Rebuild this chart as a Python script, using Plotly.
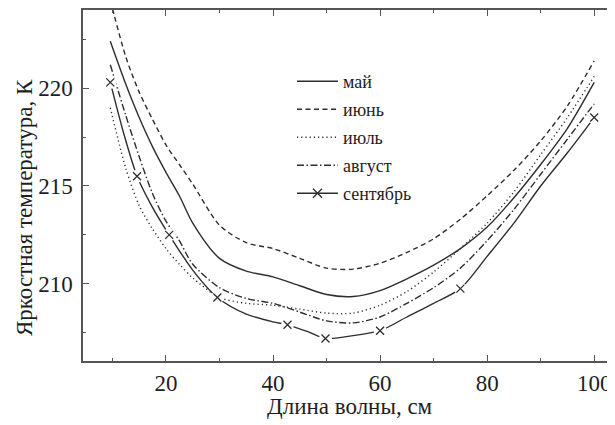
import plotly.graph_objects as go

# Wavelength grid, cm
WL = [9.6, 12.5, 15, 17.5, 20, 22.5, 25, 30, 35, 40, 45, 50, 55, 60, 65, 70, 75, 80, 85, 90, 95, 100]

# Brightness temperature, K
T_MAY = [222.4, 220.2, 218.5, 217.0, 215.7, 214.5, 213.1, 211.3, 210.65, 210.35, 209.9, 209.45,
         209.35, 209.65, 210.25, 210.95, 211.8, 212.9, 214.4, 216.1, 217.95, 220.3]
T_JUN = [224.5, 221.6, 219.8, 218.4, 217.1, 216.1, 215.1, 213.0, 212.1, 211.8, 211.3, 210.8,
         210.75, 211.05, 211.6, 212.3, 213.3, 214.5, 215.8, 217.3, 219.1, 221.4]
T_JUL = [219.0, 215.9, 214.0, 212.8, 211.8, 211.0, 210.3, 209.3, 209.0, 208.9, 208.7, 208.5,
         208.5, 208.9, 209.6, 210.6, 211.8, 213.1, 214.7, 216.6, 218.5, 220.6]
T_AUG = [221.2, 218.6, 216.5, 214.6, 213.2, 212.2, 211.0, 209.8, 209.25, 209.0, 208.55, 208.1,
         208.0, 208.3, 209.0, 209.8, 210.8, 212.2, 213.8, 215.6, 217.4, 219.2]

SEPT_WL = [9.6, 12.2, 14.6, 17.3, 20.6, 25, 29.6, 35, 40, 42.7, 46.5, 49.8, 55, 60, 65, 70, 75, 80, 85, 90, 95, 100]
T_SEP = [220.3, 217.6, 215.5, 214.0, 212.5, 210.7, 209.3, 208.45, 208.05, 207.9, 207.55, 207.2,
         207.35, 207.6, 208.3, 209.0, 209.75, 211.4, 213.1, 215.0, 216.7, 218.5]
SEPT_MARK_WL = [9.6, 14.6, 20.6, 29.6, 42.7, 49.8, 60, 75, 100]

NAMES = ["май", "июнь", "июль", "август", "сентябрь"]

X_TICKS = [20, 40, 60, 80, 100]
Y_TICKS = [210, 215, 220]

INK = "#2e2e2e"
AXC = "#555555"
TXT = "#1e1e1e"
FONT = "Liberation Serif, Times New Roman, Tinos, DejaVu Serif, serif"

fig = go.Figure()

styles = [
    (T_MAY, "solid"),
    (T_JUN, "5px,3.5px"),
    (T_JUL, "1.2px,3px"),
    (T_AUG, "7px,2.5px,1.5px,2.5px"),
]
for (vals, dash), name in zip(styles, NAMES[:4]):
    fig.add_trace(go.Scatter(
        x=WL, y=vals, mode="lines", name=name, legendgroup=name,
        line=dict(color=INK, width=1.4, dash=dash, shape="spline", smoothing=0.8),
    ))

mark_x = [w for w in SEPT_WL if w in SEPT_MARK_WL]
mark_y = [t for w, t in zip(SEPT_WL, T_SEP) if w in SEPT_MARK_WL]

fig.add_trace(go.Scatter(
    x=SEPT_WL, y=T_SEP, mode="lines", showlegend=False, legendgroup=NAMES[4],
    line=dict(color=INK, width=1.4, shape="spline", smoothing=0.8),
))
fig.add_trace(go.Scatter(
    x=mark_x, y=mark_y, mode="markers", showlegend=False, hoverinfo="skip",
    marker=dict(symbol="circle", size=13, color="white", line=dict(width=0)),
))
fig.add_trace(go.Scatter(
    x=mark_x, y=mark_y, mode="markers", showlegend=False, legendgroup=NAMES[4],
    marker=dict(symbol="x-thin", size=8, color=INK, line=dict(color=INK, width=1.3)),
))
# legend entry for September (line with cross)
fig.add_trace(go.Scatter(
    x=[None], y=[None], mode="lines+markers", name=NAMES[4], legendgroup=NAMES[4],
    line=dict(color=INK, width=1.4),
    marker=dict(symbol="x-thin", size=9, color=INK, line=dict(color=INK, width=1.3)),
))

# page body adds an 8px offset; figure is sized so it fills the visible window
OFF = 8
W, H = 615 - OFF, 425 - OFF
LEFT_PX, RIGHT_PX, TOP_PX, BOTTOM_PX = 83, 614, 10, 361   # window coordinates of plot frame
L = LEFT_PX - OFF
T = TOP_PX - OFF
R = W - (RIGHT_PX - OFF)
B = H - (BOTTOM_PX - OFF)
pw, ph = W - L - R, H - T - B


def px_to_paper_x(px):
    return (px - OFF - L) / pw


def px_to_paper_y(py):
    return (H - B - (py - OFF)) / ph


fig.update_layout(
    width=W, height=H,
    margin=dict(l=L, r=R, t=T, b=B, autoexpand=False),
    paper_bgcolor="white", plot_bgcolor="white",
    font=dict(family=FONT, color=TXT, size=23),
    showlegend=True,
    legend=dict(
        x=px_to_paper_x(292), y=px_to_paper_y(63), xanchor="left", yanchor="top",
        bgcolor="rgba(0,0,0,0)", font=dict(family=FONT, size=18, color=TXT),
        traceorder="grouped", tracegroupgap=1.6, itemwidth=41,
    ),
    annotations=[
        dict(text="Яркостная температура, К", xref="paper", yref="paper",
             x=px_to_paper_x(24), y=px_to_paper_y(208), textangle=-90,
             showarrow=False, xanchor="center", yanchor="middle",
             font=dict(family=FONT, size=23, color=TXT)),
        dict(text="Длина волны, см", xref="paper", yref="paper",
             x=px_to_paper_x(350), y=px_to_paper_y(406), showarrow=False,
             xanchor="center", yanchor="middle",
             font=dict(family=FONT, size=23, color=TXT)),
    ],
)

fig.update_xaxes(
    range=[4.5, 103.7], tickvals=X_TICKS, ticks="inside", ticklen=6, tickwidth=1.3,
    tickcolor=AXC, showline=True, linecolor=AXC, linewidth=1.5, mirror="ticks",
    showgrid=False, zeroline=False, ticklabelstandoff=1, automargin=False,
    minor=dict(ticks="inside", tickvals=[10, 30, 50, 70, 90], ticklen=3, tickcolor=AXC, tickwidth=1.2),
    tickfont=dict(family=FONT, size=23, color=TXT),
)
fig.update_yaxes(
    range=[206.05, 224.0], tickvals=Y_TICKS, ticks="inside", ticklen=6, tickwidth=1.3,
    tickcolor=AXC, showline=True, linecolor=AXC, linewidth=1.5, mirror="ticks",
    showgrid=False, zeroline=False, ticklabelstandoff=4, automargin=False,
    minor=dict(ticks="inside", tickvals=[207.5, 212.5, 217.5, 222.5], ticklen=3, tickcolor=AXC, tickwidth=1.2),
    tickfont=dict(family=FONT, size=23, color=TXT),
)

fig.write_html("out.html")
